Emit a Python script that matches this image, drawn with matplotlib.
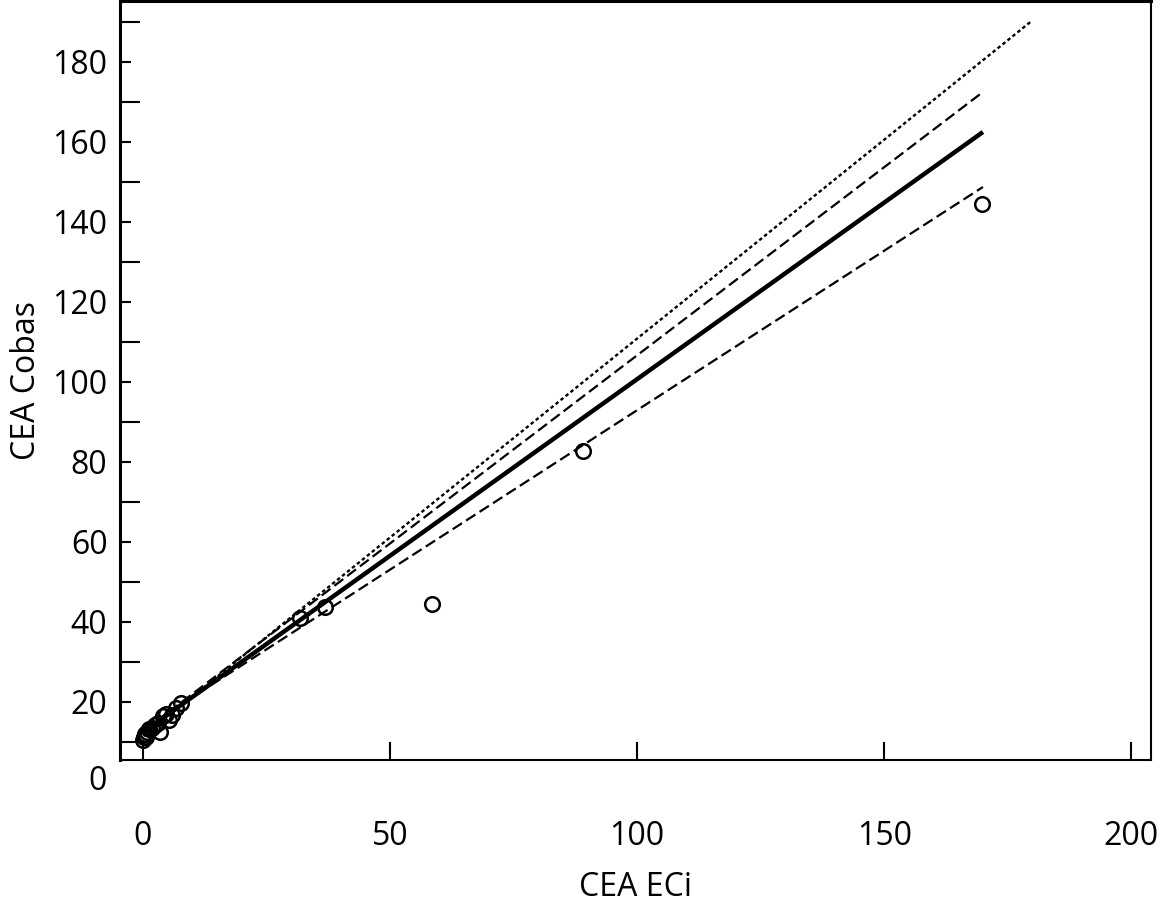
import matplotlib.pyplot as plt
import matplotlib.transforms as mtransforms
import numpy as np

plt.rcParams['font.family'] = ['Open Sans', 'DejaVu Sans']

# measured points (CEA ECi vs CEA Cobas)
eci = [0.1, 0.2, 0.4, 0.6, 0.9, 1.3, 1.8, 2.5, 3.0, 3.5, 4.0, 4.6, 5.2, 5.8, 6.6, 7.6,
       31.8, 36.8, 58.5, 89.1, 169.8]
cobas = [10.6, 11.3, 11.9, 11.2, 12.6, 13.2, 13.4, 14.2, 14.8, 12.6, 16.4, 17.0, 15.4, 16.8,
         18.6, 19.8, 41.0, 43.8, 44.6, 82.8, 144.5]

# regression line, confidence bounds and reference line (x start, x end, y start, y end)
fit_x = [0.1, 170.0]
fit_y = [12.5, 162.5]
ci_hi_y = [12.7, 172.5]
ci_lo_y = [13.3, 148.75]
ref_x = [0.1, 179.6]
ref_y = [11.5, 190.0]

xticks = [0, 50, 100, 150, 200]
yticks_major = [20, 40, 60, 80, 100, 120, 140, 160, 180]
yticks_minor = [10, 30, 50, 70, 90, 110, 130, 150, 170, 190]

fig = plt.figure(figsize=(11.6, 9.07), dpi=100)
ax = fig.add_axes([0.1034, 0.1621, 0.8888, 0.8368])

ax.plot(ref_x, ref_y, color='black', lw=1.7, dashes=(1.5, 1.2))
ax.plot(fit_x, ci_hi_y, color='black', lw=1.6, dashes=(5, 2.2))
ax.plot(fit_x, ci_lo_y, color='black', lw=1.6, dashes=(5, 2.2))
ax.plot(fit_x, fit_y, color='black', lw=3.2, solid_capstyle='butt')
ax.plot(eci, cobas, 'o', ms=10.5, mfc='none', mec='black', mew=1.8)

ax.set_xlim(-4.66, 204.0)
ax.set_ylim(5.5, 195.25)

ax.set_xticks(xticks)
ax.set_yticks(yticks_major)
ax.set_yticks(yticks_minor, minor=True)
ax.tick_params(axis='x', direction='in', length=13, width=1.5, pad=43, labelsize=23)
ax.tick_params(axis='y', which='major', direction='in', length=8, width=1.5, pad=9, labelsize=23)
ax.tick_params(axis='y', which='minor', direction='in', length=14.5, width=1.5)

# the "0" label sits below the plotted area
trans = mtransforms.blended_transform_factory(ax.transAxes, ax.transData)
ax.text(-0.0126, 0, '0', transform=trans, ha='right', va='center', fontsize=23, clip_on=False)

for side in ['left', 'top']:
    ax.spines[side].set_linewidth(2.2)
for side in ['right', 'bottom']:
    ax.spines[side].set_linewidth(1.5)

ax.set_xlabel('CEA ECi', fontsize=23, labelpad=13)
ax.set_ylabel('CEA Cobas', fontsize=23, labelpad=7)

fig.savefig('out.png', dpi=100)
